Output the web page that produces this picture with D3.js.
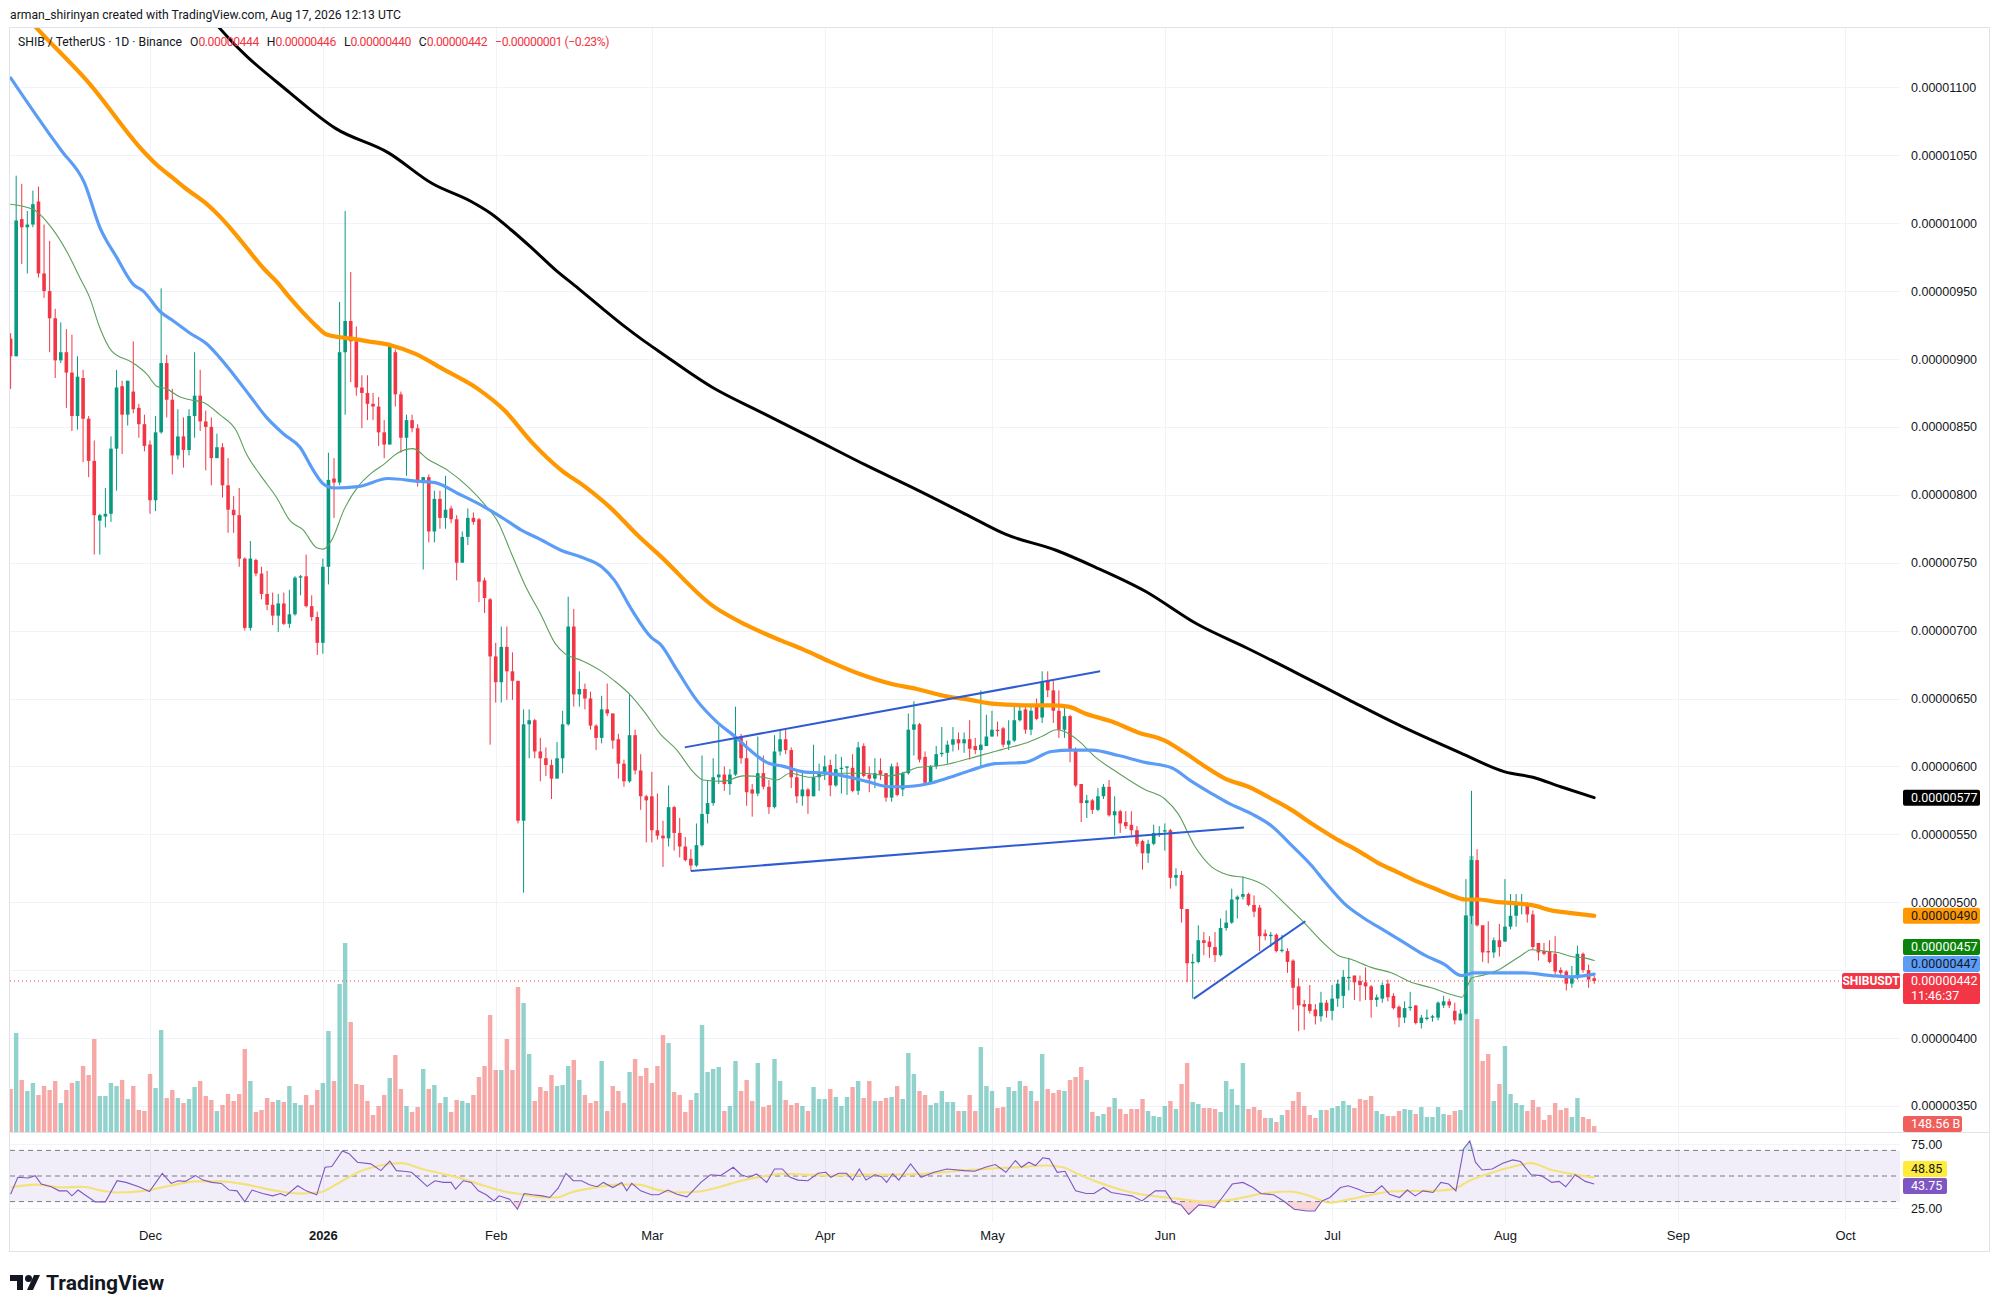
<!DOCTYPE html>
<html>
<head>
<meta charset="utf-8">
<script src="https://cdn.jsdelivr.net/npm/d3@7"></script>
<style>
  body { margin: 0; background: #fff; }
  svg { display: block; font-family: Roboto, "Noto Sans", sans-serif; }
</style>
</head>
<body>
<svg id="chart"></svg>
<script>
// daily candles from 2025-11-06, prices in units of 1e-8 USDT
const startDay = Date.UTC(2025, 10, 6);

const openV = [
  915,902,1003,997,999,1016,963,950,930,899, 905,890,858,886,856,825,781,784,786,834,
  880,859,876,864,852,837,796,846,897,870, 829,843,833,858,873,854,850,827,835,807,
  789,785,753,702,752,742,727,719,711,720, 705,712,739,740,718,710,691,747,812,809,
  905,928,913,879,875,867,865,846,837,905, 874,842,855,849,809,813,773,797,783,790,
  782,750,769,783,782,737,723,681,662,688, 670,663,560,631,634,611,606,601,591,606,
  631,703,653,657,650,630,621,642,639,620, 602,589,623,597,578,578,553,549,547,570,
  551,541,532,527,542,565,573,592,594,587, 594,622,606,583,580,595,585,570,611,620,
  612,592,578,583,578,592,595,601,586,598, 599,599,582,615,594,591,597,595,577,600,
  583,595,627,631,607,588,600,609,610,616, 620,617,620,615,612,615,622,627,628,616,
  619,634,642,627,646,636,663,656,641,627, 637,612,587,573,575,568,578,585,564,567,
  559,557,553,545,536,543,550,552,553,518, 520,495,455,456,472,471,467,461,481,485,
  502,504,506,498,496,477,475,476,464,464, 457,438,425,425,421,416,426,420,429,431,
  444,446,442,441,438,428,429,440,431,423, 415,422,424,411,414,415,415,424,427,420,
  413,418,490,531,483,464,463,472,471,482, 490,498,499,491,470,464,464,462,450,449,
  440,444,462,450,444
];
const highV = [
  919,1035,1029,1009,1024,1027,999,987,937,927, 922,918,902,892,858,840,786,805,843,892,
  884,884,913,867,859,840,858,952,903,878, 863,857,863,905,892,862,857,845,838,827,
  799,805,754,766,753,747,744,728,727,728, 730,740,741,756,726,714,753,831,827,942,
  1009,964,924,888,888,875,872,855,912,907, 876,859,859,852,813,815,803,803,814,792,
  785,773,790,787,783,739,724,691,703,703, 684,663,642,642,635,621,614,605,618,641,
  725,716,670,661,655,631,652,661,639,624, 605,653,627,609,579,596,580,560,586,571,
  562,548,539,558,608,590,606,630,600,598, 644,624,619,587,622,608,590,623,627,627,
  614,596,597,584,616,602,608,605,609,607, 600,609,618,617,600,606,606,595,602,603,
  596,639,648,632,611,601,615,629,619,629, 625,625,634,621,656,638,641,633,629,634,
  644,646,646,646,650,670,670,663,656,644, 638,614,587,579,576,584,587,590,578,568,
  567,567,556,546,546,557,556,558,554,525, 523,495,462,483,478,475,478,488,494,510,
  505,519,507,505,498,480,478,477,476,466, 458,444,428,439,425,434,428,439,443,450,
  459,446,446,452,439,432,441,443,433,424, 427,434,424,417,421,417,427,431,429,426,
  421,517,582,539,483,486,474,484,517,506, 506,506,500,494,470,470,472,475,452,450,
  453,468,463,454,446
];
const lowV = [
  878,902,970,963,997,960,945,905,886,897, 864,847,848,824,813,756,756,776,780,803,
  830,851,860,842,832,786,788,845,857,815, 826,820,829,842,847,818,807,827,798,772,
  772,747,700,700,740,723,715,704,699,704, 702,711,726,717,707,682,683,734,783,807,
  859,883,873,849,855,855,836,827,837,865, 831,814,846,806,745,765,765,775,775,779,
  737,750,763,778,721,713,616,647,647,649, 649,558,507,606,606,589,593,576,591,595,
  630,644,644,642,627,612,617,637,613,591, 585,588,594,568,544,544,546,526,541,538,
  533,530,523,526,541,558,571,587,582,579, 593,602,571,563,578,583,565,569,608,609,
  584,573,571,565,578,582,590,578,585,580, 579,581,579,592,581,584,590,574,574,578,
  578,594,608,603,586,587,598,607,602,611, 612,610,605,609,600,615,622,622,614,612,
  618,633,624,623,634,632,651,632,621,621, 603,585,559,562,565,567,576,563,549,551,
  554,549,541,524,529,542,548,538,510,512, 485,441,429,455,461,459,456,460,479,484,
  488,502,497,489,464,472,467,463,463,448, 421,405,406,418,410,412,415,413,423,422,
  435,428,427,428,415,423,426,427,421,408, 411,420,410,407,413,412,413,422,422,410,
  413,417,484,482,456,455,459,460,471,480, 482,491,485,465,457,461,455,447,445,435,
  437,443,448,437,440
];
const closeV = [
  902,1002,997,999,1014,963,950,930,899,905, 890,858,887,856,825,785,785,786,834,879,
  859,884,863,852,836,796,846,897,870,829, 843,833,858,873,854,850,827,835,807,789,
  785,753,702,753,742,727,719,711,720,705, 712,739,740,718,710,691,747,811,809,905,
  928,913,879,875,867,865,846,837,910,874, 842,855,849,809,813,773,797,783,789,782,
  750,769,783,780,736,724,681,662,688,670, 663,560,631,634,611,606,601,591,606,631,
  703,653,657,650,630,621,642,639,619,602, 589,623,597,578,575,553,549,547,570,551,
  541,531,527,542,565,573,592,594,587,594, 620,606,581,580,595,585,570,611,620,612,
  592,578,583,578,592,595,600,586,598,599, 600,582,614,593,591,595,594,577,600,579,
  595,627,631,605,588,600,609,610,616,620, 617,620,613,612,616,622,627,626,616,619,
  634,641,627,641,635,662,656,641,627,637, 612,586,573,575,568,578,585,564,567,558,
  556,553,543,536,543,551,551,553,518,520, 495,455,456,472,470,467,461,481,485,502,
  504,506,498,493,475,475,476,464,465,456, 437,424,423,420,416,426,420,429,440,445,
  445,441,439,438,428,430,439,430,422,415, 422,423,411,415,415,416,426,427,424,413,
  418,490,531,483,463,463,472,467,482,490, 499,499,491,467,463,462,456,449,448,440,
  445,462,450,443,442
];
// daily volume, billions of SHIB
const volumeV = [
  1075,2475,1300,1025,1225,925,1150,1050,1275,725, 1050,1225,1275,1650,1425,2325,900,900,1225,1150,
  1300,825,1150,550,525,1450,1100,2550,850,1050, 850,725,825,1125,1275,900,800,525,675,950,
  775,950,2075,1275,500,550,850,750,800,750, 1150,725,675,925,675,1050,1225,2525,1275,3700,
  4725,2750,1200,1175,775,425,650,925,1350,1925, 1075,650,500,625,1575,1075,1175,725,875,500,
  800,775,725,925,1375,1650,2925,1550,1550,2325, 1550,3625,3225,1950,775,1125,1025,1425,1150,1175,
  1650,1800,1300,925,725,775,1775,525,1150,1025, 725,1500,1825,1400,1600,1225,1650,2425,2225,1000,
  925,500,800,975,2675,1500,1575,1625,525,650, 1775,1025,1300,775,1725,625,675,1825,1275,800,
  675,725,650,525,1125,825,825,1075,875,650, 875,1125,1275,850,1275,775,775,850,875,1150,
  825,1975,1450,1025,925,675,725,1025,750,750, 525,525,925,525,2125,1150,1025,600,625,1125,
  1025,1275,1150,1025,775,1950,1075,975,1050,1025, 1300,1375,1625,1300,500,400,450,625,850,575,
  450,575,575,825,525,400,375,650,775,575, 1200,1725,750,700,600,600,575,500,1275,1075,
  675,1725,575,625,550,350,350,250,425,550, 775,1000,650,425,350,550,550,600,650,775,
  675,600,825,800,900,525,450,400,400,525, 575,550,450,625,375,375,625,450,425,525,
  550,5425,6900,2825,1775,1950,775,1200,2150,950, 725,675,525,800,625,300,425,725,550,600,
  375,850,375,325,148.56
];

// moving averages: [day index, price]
const ma200 = [[30,1185],[37.4,1144],[50.1,1096],[58.2,1070],[67.7,1052],[75.7,1029],[82.6,1016],[86.2,1007],
  [89.8,995],[93.4,982],[97.6,966],[101.8,952],[105.9,938],[110.1,924],[113.7,913],[116.5,905],[125.9,879],
  [135,860],[144.2,841],[153.3,822],[162.4,804],[171.6,785],[178.4,771],[187.6,759],[194.4,747],[203.5,729],
  [212.7,705],[221.8,687],[231,668],[240,649],[249.2,630],[260,610],[268,596],[273,592],[278,585],[284,577]];
const ma100 = [[0,1165],[4.6,1144],[14.1,1103],[23.8,1053],[26.2,1043],[29.2,1033],[31.6,1025],[35.2,1014],
  [37.5,1005],[39.9,994],[42.3,982],[45.3,967],[47.7,957],[50.1,945],[52.5,934],[54.9,924],[56.7,918],[59.1,916],
  [61.1,915],[64.1,913],[68.3,910],[72.5,904],[77.8,892],[83.8,878],[88.6,862],[93.4,839],[98.8,818],[103,806],
  [107.7,790],[112.5,770],[116.5,755],[126,718],[132,704],[138,693],[142.2,686],[147,677],[152.3,668],[157.7,661],
  [162.5,657],[167.3,652],[172.1,649],[176.5,646],[181.9,645],[186.7,645],[189.7,644],[192.7,639],[197.5,633],
  [202.2,625],[207,619],[210.6,610],[214.2,600],[217.8,591],[222,585],[226.2,576],[229.7,568],[233.3,558],
  [236,551],[238,546],[241.6,538],[245.2,529],[248.8,522],[252.4,515],[256,509],[258.4,505],[260.8,502],
  [263.2,502],[266.8,500],[270.3,499],[272.7,498],[276.3,494],[279.9,492],[284,490]];
const ma50 = [[0,1107],[6.9,1066],[9.2,1053],[13.2,1030],[16,997],[19,975],[22,955],[23.8,950],[26.8,935],
  [29.2,928],[32.2,919],[35.2,911],[37.5,901],[39.9,889],[42.9,873],[45.9,857],[48.9,845],[51.9,835],[54.3,818],
  [56.1,808],[58.1,805],[62.3,806],[67.7,812],[73.1,810],[76.1,809],[80.2,801],[85,791],[88.6,782],[91.6,774],
  [94.6,768],[98.8,759],[102.4,754],[106,747],[108.3,737],[111.3,716],[114.9,695],[116.5,690],[119.5,671],
  [123,649],[126.6,633],[130.2,621],[132.6,612],[135.6,603],[138.6,600],[142.2,596],[146.3,595],[150.5,592],
  [153.5,589],[157.7,585],[160.1,585],[164.3,587],[168.5,592],[172.1,597],[176.5,602],[181.9,603],[186.7,611],
  [190.3,612],[193.9,612],[198.7,608],[203.4,603],[208.2,599],[211.8,589],[215.4,580],[218.4,573],[222.6,565],
  [226.2,556],[229.7,542],[233.3,527],[235.7,515],[239.2,499],[242.8,488],[246.4,479],[250,470],[253.6,461],
  [257.2,454],[260.2,446],[262.6,448],[266.8,448],[271.5,448],[276.3,446],[279.9,445],[284,447]];
const ma20 = [[0,1014],[4.1,1010],[6.5,1001],[10.1,979],[12.4,960],[14.2,945],[16,923],[18.1,906],[22,897],
  [24.4,889],[26.2,880],[28,878],[30.4,872],[32.2,870],[34.6,868],[37.5,859],[40.5,847],[42.3,830],[44.7,815],
  [47.7,798],[50.1,781],[52.5,774],[54.9,761],[56.1,760],[57.5,766],[59.9,790],[62.3,806],[64.7,816],[67.1,823],
  [69.5,831],[72.2,834],[74.9,826],[78.4,818],[82,806],[85,793],[87.4,780],[89.8,757],[92.2,734],[95.2,711],
  [97.6,691],[99.4,683],[102.4,678],[106,670],[108.3,663],[111.3,652],[113.7,640],[116.5,624],[119.5,612],
  [122.4,596],[124.2,590],[127.8,589],[131.4,593],[135,592],[137.4,590],[139.8,595],[143.4,592],[148.1,595],
  [152.9,595],[157.7,593],[160.7,596],[162.5,599],[167.3,601],[172.1,606],[176.5,611],[178.3,613],[181.9,617],
  [184.9,622],[187.6,627],[189.4,625],[191.5,619],[194.5,607],[198.7,595],[203.4,583],[207,576],[209.4,565],
  [212.4,541],[215.4,526],[218.4,520],[221.4,518],[225,512],[228.5,499],[231.5,487],[235.7,469],[238,461],
  [240.4,458],[244,452],[247.6,448],[251.2,441],[254.8,437],[258.4,432],[260.3,430],[262,444],[263.8,446],
  [266.8,450],[269.1,456],[271,461],[272.7,465],[275.1,464],[277.5,463],[279.9,460],[282.3,459],[284,457]];

// drawn trend lines: [day index, price]
const channelTop = [[120.9,614],[195.4,670]];
const channelBottom = [[122,523],[221.2,555]];
const wedgeLine = [[212.2,429],[232.2,486]];

// RSI(14) and its moving average: [day index, value]
const rsiLine = [[0,35.8],[1.3,49],[3.2,48.4],[4.4,50.3],[5.5,43.7],[7.3,41.6],[8.7,38.4],[10.1,38.4],[11,34.5],
  [12.1,39],[13.3,35.3],[15.2,29.8],[17,29.8],[19.1,46.3],[20.7,45],[23,41.6],[24.9,37.9],[27.2,52.1],[28.8,44.2],
  [30,46.3],[31.3,45.8],[33.2,50.3],[34.5,46.8],[36.1,45],[37.8,44.2],[39.2,39],[40.6,38.4],[42,29.8],[43.3,39],
  [45.2,36.3],[47,34.5],[48.4,36.3],[49.3,34.5],[51.5,42.4],[53,38.4],[54.9,35.3],[56.4,56.8],[57.6,57.4],
  [59.5,69.5],[60.7,67.4],[62.2,60.8],[64.6,59.5],[66.4,54.2],[68,61.6],[69.2,54.2],[70.5,53.7],[71.9,52.9],
  [73.3,47.6],[74.7,41.9],[76.1,46.3],[77.6,45],[79,45],[79.8,39.7],[81.2,46.3],[82.6,45],[83.9,38.4],[85.3,35.3],
  [86.7,30.5],[87.6,34.5],[89.5,31.9],[90.9,24],[92.1,36.3],[93.6,35.3],[95.4,34.5],[96.7,33.2],[98.2,40.5],
  [99.6,52.1],[100.9,46.3],[102.4,46.3],[103.8,43.2],[105.2,41.6],[106.3,45],[108,41],[109.6,45],[110.5,38.4],
  [111.4,44.2],[113,38.4],[114.9,35.3],[116.2,35.3],[117.9,39],[119.5,35.8],[121.3,33.7],[123.8,45],[125.5,51],
  [127.3,50.3],[129.6,56.8],[131,51],[132.4,49],[133.8,51.6],[135.6,45],[137,55.5],[138.4,55.5],[139.8,49],
  [141.2,46.8],[143,46.3],[144.8,52.1],[146.2,52.9],[147.1,49],[148.5,52.1],[149.9,52.1],[151,46.8],[152.2,55.5],
  [153.4,46.8],[155,51],[156.2,49.5],[157.1,45],[158.2,51.6],[159.3,46.8],[161.4,59.5],[163.3,49],[165.6,52.9],
  [167.9,55.5],[171.1,54.2],[172.9,53.7],[174.8,56.8],[176.6,59],[178.5,52.9],[180.2,62.1],[181.3,56.8],
  [182.6,60.8],[183.8,58.2],[185.1,64.2],[186.3,63.4],[187.7,52.9],[189.1,53.7],[191,38.4],[192.9,36.3],
  [194.3,36.3],[196,41],[197.4,37.1],[199.3,35.8],[201.1,34.5],[202.9,30.5],[205.3,38.4],[207.1,38.4],[208.5,29.2],
  [209.9,27.4],[211.3,20],[213.1,27.4],[214.9,26.6],[215.9,25.3],[217.3,33.2],[219.1,43.7],[221,45],[222.8,41],
  [224.2,36.3],[226.5,35.3],[228.3,30.5],[230.2,24],[232.5,22.6],[233.9,22.6],[235.2,30.5],[236.6,33.2],[238.5,41],
  [239.9,42.4],[241.7,39.7],[243.1,37.1],[244.5,37.1],[245.9,42.4],[247.3,35.8],[249.1,33.2],[250.5,39],
  [251.9,34.5],[253.3,38.4],[255.1,37.1],[256.5,45],[257.9,43.7],[259.2,38.4],[260.6,71.3],[261.7,77.4],
  [262.7,60.8],[263.9,54.7],[265.7,55.5],[267.6,60],[269.4,62.6],[270.8,61.3],[272.7,51],[274.5,50.3],[276.4,45],
  [277.7,45.8],[278.9,41.6],[280.6,51],[282.4,45.8],[284,43.75]];
const rsiMa = [[0,41],[4.6,43.2],[9.2,41],[12.9,41.6],[16.6,38.4],[19.3,37.1],[23.9,38.4],[28.6,42.4],[33.2,45.8],
  [37.8,45.8],[42.4,43.2],[47,39],[51.6,36.3],[55.3,37.1],[59,45],[62.7,53.7],[66.4,58.2],[70.1,60],[73.8,55.5],
  [77.6,51.6],[81.2,47.6],[84.9,42.4],[88.6,37.9],[92.2,35.3],[95.9,33.2],[97.8,33.2],[100.5,37.1],[104.2,40.5],
  [108.9,43.2],[112.5,43.2],[116.2,39],[119.9,37.1],[123.6,37.9],[127.3,41.6],[131,46.3],[134.7,49.5],[138.4,51.6],
  [142.8,51],[147.1,50.3],[152.6,51],[158.2,51],[163.7,51.6],[169.3,53.7],[174.8,55.5],[180.3,56.8],[185.9,58.2],
  [188.7,56.8],[191.4,51.6],[195.1,45],[198.8,39.7],[202.5,35.8],[206.2,33.7],[209.9,31.9],[213.6,30],[217.3,30.5],
  [221,33.2],[224.6,36.3],[229.3,37.9],[233,34.5],[236.6,29.2],[240.3,31.9],[244,35.3],[247.7,37.9],[251.3,38.4],
  [255.1,38.4],[258.7,39.7],[261.6,46.3],[265.3,52.1],[269,56.8],[272.7,60],[276.4,54.7],[280.1,51.5],[284,48.85]];

const priceTicks = [350,400,500,550,600,650,700,750,800,850,900,950,1000,1050,1100];
const priceGrid = [350,400,450,500,550,600,650,700,750,800,850,900,950,1000,1050,1100];
const rsiTicks = [25, 75];
const monthLabels = ["Dec","2026","Feb","Mar","Apr","May","Jun","Jul","Aug","Sep","Oct"];
const monthDates = [[2025,11],[2026,0],[2026,1],[2026,2],[2026,3],[2026,4],[2026,5],[2026,6],[2026,7],[2026,8],[2026,9]]
  .map(([y, m]) => new Date(Date.UTC(y, m, 1)));

const width = 1996;
const height = 1312;
const plotL = 10, plotR = 1900;
const priceTop = 28, priceBot = 1132;
const rsiTop = 1133, rsiBot = 1222;
const axisX = 1903;
const textColor = "#131722";
const upColor = "#089981", downColor = "#f23645";

const svg = d3.select("#chart").attr("width", width).attr("height", height);

const xScale = d3.scaleUtc()
  .domain([new Date(startDay), new Date(Date.UTC(2026, 9, 1))])
  .range([10.6, 1845.1]);
const xAt = (i) => xScale(new Date(startDay + i * 864e5));
const yPrice = d3.scaleLinear().domain([350, 1100]).range([1105.9, 87.4]);
const yVol = d3.scaleLinear().domain([0, 6900]).range([priceBot, priceBot - 276]);
const yRsi = d3.scaleLinear().domain([25, 75]).range([1208, 1144]);
const fmtP = (v) => (v / 1e8).toFixed(8);

const defs = svg.append("defs");
defs.append("clipPath").attr("id", "clipPrice").append("rect")
  .attr("x", plotL).attr("y", priceTop).attr("width", plotR - plotL).attr("height", priceBot - priceTop);
defs.append("clipPath").attr("id", "clipRsi").append("rect")
  .attr("x", plotL).attr("y", rsiTop).attr("width", plotR - plotL).attr("height", rsiBot - rsiTop);

// grid
const grid = svg.append("g").attr("stroke", "#f0f3fa").attr("stroke-width", 1);
grid.selectAll(".hg").data(priceGrid).enter().append("line")
  .attr("x1", plotL).attr("x2", plotR)
  .attr("y1", (d) => Math.round(yPrice(d)) + 0.5).attr("y2", (d) => Math.round(yPrice(d)) + 0.5);
grid.selectAll(".rg").data(rsiTicks).enter().append("line")
  .attr("x1", plotL).attr("x2", plotR)
  .attr("y1", (d) => Math.round(yRsi(d)) + 0.5).attr("y2", (d) => Math.round(yRsi(d)) + 0.5);
grid.selectAll(".vg").data(monthDates).enter().append("line")
  .attr("y1", priceTop).attr("y2", rsiBot)
  .attr("x1", (d) => Math.round(xScale(d)) + 0.5).attr("x2", (d) => Math.round(xScale(d)) + 0.5);

// frame and pane separator
svg.append("rect").attr("x", 9.5).attr("y", 27.5).attr("width", 1980).attr("height", 1224)
  .attr("fill", "none").attr("stroke", "#e0e3eb");
svg.append("line").attr("x1", plotL).attr("x2", 1989).attr("y1", 1132.5).attr("y2", 1132.5)
  .attr("stroke", "#e0e3eb");

const candles = closeV.map((c, i) => ({ i, o: openV[i], h: highV[i], l: lowV[i], c, v: volumeV[i] }));
const isUp = (d) => d.c >= d.o;

const pricePane = svg.append("g").attr("clip-path", "url(#clipPrice)");

// volume
pricePane.append("g").selectAll("rect").data(candles).enter().append("rect")
  .attr("x", (d) => xAt(d.i) - 2.2).attr("width", 4.4)
  .attr("y", (d) => yVol(d.v)).attr("height", (d) => priceBot - yVol(d.v))
  .attr("fill", (d) => (isUp(d) ? "rgba(38,166,154,0.5)" : "rgba(239,83,80,0.5)"));

// last price line
svg.append("line").attr("x1", plotL).attr("x2", 1842)
  .attr("y1", yPrice(closeV[closeV.length - 1])).attr("y2", yPrice(closeV[closeV.length - 1]))
  .attr("stroke", downColor).attr("stroke-width", 1).attr("stroke-dasharray", "1,3");

// candles
const cg = pricePane.append("g");
cg.selectAll("line").data(candles).enter().append("line")
  .attr("x1", (d) => xAt(d.i)).attr("x2", (d) => xAt(d.i))
  .attr("y1", (d) => yPrice(d.h)).attr("y2", (d) => yPrice(d.l))
  .attr("stroke", (d) => (isUp(d) ? upColor : downColor)).attr("stroke-width", 1);
cg.selectAll("rect").data(candles).enter().append("rect")
  .attr("x", (d) => xAt(d.i) - 1.8).attr("width", 3.6)
  .attr("y", (d) => yPrice(Math.max(d.o, d.c)))
  .attr("height", (d) => Math.max(1, Math.abs(yPrice(d.o) - yPrice(d.c))))
  .attr("fill", (d) => (isUp(d) ? upColor : downColor));

// moving averages
const maLine = d3.line().x((d) => xAt(d[0])).y((d) => yPrice(d[1])).curve(d3.curveMonotoneX);
[
  [ma20, "#5c9f5c", 1.1],
  [ma50, "#5b9cf6", 3.2],
  [ma100, "#ff9800", 4.2],
  [ma200, "#000000", 3],
].forEach(([data, color, w]) => {
  pricePane.append("path").datum(data).attr("d", maLine)
    .attr("fill", "none").attr("stroke", color).attr("stroke-width", w)
    .attr("stroke-linejoin", "round").attr("stroke-linecap", "round");
});

// trend lines
const trend = d3.line().x((d) => xAt(d[0])).y((d) => yPrice(d[1]));
[channelTop, channelBottom, wedgeLine].forEach((seg) => {
  pricePane.append("path").datum(seg).attr("d", trend)
    .attr("fill", "none").attr("stroke", "#2f5bd3").attr("stroke-width", 2);
});

// RSI pane
const rsiPane = svg.append("g").attr("clip-path", "url(#clipRsi)");
rsiPane.append("rect").attr("x", plotL).attr("width", plotR - plotL)
  .attr("y", yRsi(70)).attr("height", yRsi(30) - yRsi(70)).attr("fill", "rgba(126,87,194,0.1)");
[70, 50, 30].forEach((v) => {
  rsiPane.append("line").attr("x1", plotL).attr("x2", plotR)
    .attr("y1", yRsi(v)).attr("y2", yRsi(v))
    .attr("stroke", "#787b86").attr("stroke-width", 1).attr("stroke-dasharray", "5,4");
});
rsiPane.append("path").datum(rsiLine)
  .attr("d", d3.area().x((d) => xAt(d[0])).y0(yRsi(70)).y1((d) => yRsi(Math.max(d[1], 70))))
  .attr("fill", "rgba(8,153,129,0.2)");
rsiPane.append("path").datum(rsiLine)
  .attr("d", d3.area().x((d) => xAt(d[0])).y0(yRsi(30)).y1((d) => yRsi(Math.min(d[1], 30))))
  .attr("fill", "rgba(242,54,69,0.2)");
rsiPane.append("path").datum(rsiMa)
  .attr("d", d3.line().x((d) => xAt(d[0])).y((d) => yRsi(d[1])).curve(d3.curveMonotoneX))
  .attr("fill", "none").attr("stroke", "#f3e27c").attr("stroke-width", 2.2);
rsiPane.append("path").datum(rsiLine).attr("d", d3.line().x((d) => xAt(d[0])).y((d) => yRsi(d[1])))
  .attr("fill", "none").attr("stroke", "#7e57c2").attr("stroke-width", 1.1);

// price axis
const yAxis = svg.append("g").attr("transform", `translate(${axisX + 8},0)`)
  .call(d3.axisRight(yPrice).tickValues(priceTicks).tickFormat(fmtP).tickSize(0).tickPadding(0));
yAxis.select(".domain").remove();
yAxis.selectAll("text").attr("fill", textColor).style("font-size", "12.5px");

const rAxis = svg.append("g").attr("transform", `translate(${axisX + 8},0)`)
  .call(d3.axisRight(yRsi).tickValues(rsiTicks).tickFormat(d3.format(".2f")).tickSize(0).tickPadding(0));
rAxis.select(".domain").remove();
rAxis.selectAll("text").attr("fill", textColor).style("font-size", "12.5px");

// time axis
const xAxis = svg.append("g").attr("transform", `translate(0,${rsiBot + 6})`)
  .call(d3.axisBottom(xScale).tickValues(monthDates).tickFormat((d, i) => monthLabels[i]).tickSize(0).tickPadding(3));
xAxis.select(".domain").remove();
xAxis.selectAll("text").attr("fill", textColor).style("font-size", "13px")
  .style("font-weight", (d, i) => (monthLabels[i] === "2026" ? "bold" : "normal"));

// value boxes on the scale
function scaleBox(yc, w, h, fill, color, lines) {
  const g = svg.append("g");
  g.append("rect").attr("x", axisX).attr("y", yc - 8).attr("width", w).attr("height", h)
    .attr("rx", 2).attr("fill", fill);
  lines.forEach((t, k) => {
    g.append("text").attr("x", axisX + 8).attr("y", yc + k * 15).attr("dy", "0.35em")
      .attr("fill", color).style("font-size", "12.5px").text(t);
  });
}
const lastClose = closeV[closeV.length - 1];
const lastY = yPrice(lastClose);
const maBoxes = [
  { v: ma50[ma50.length - 1][1], fill: "#5b9cf6", color: textColor },
  { v: ma20[ma20.length - 1][1], fill: "#0a830a", color: "#fff" },
  { v: ma100[ma100.length - 1][1], fill: "#ff9800", color: textColor },
  { v: ma200[ma200.length - 1][1], fill: "#000000", color: "#fff" },
];
let bound = lastY - 9;
maBoxes.forEach((b) => {
  const yc = Math.min(yPrice(b.v), bound - 8);
  scaleBox(yc, 77, 16, b.fill, b.color, [fmtP(b.v)]);
  bound = yc - 9;
});
scaleBox(lastY, 77, 31, downColor, "#fff", [fmtP(lastClose), "11:46:37"]);

// symbol tag on the last price line
svg.append("rect").attr("x", 1842).attr("y", lastY - 8).attr("width", 58).attr("height", 16)
  .attr("rx", 2).attr("fill", downColor);
svg.append("text").attr("x", 1871).attr("y", lastY).attr("dy", "0.35em").attr("text-anchor", "middle")
  .attr("fill", "#fff").style("font-size", "12px").style("font-weight", "bold").text("SHIBUSDT");

// volume value
const lastVol = volumeV[volumeV.length - 1];
scaleBox(Math.min(yVol(lastVol), priceBot - 8), 59, 16, "#ef5f5c", "#fff", [d3.format(".2f")(lastVol) + " B"]);

// RSI value boxes
const rsiLast = rsiLine[rsiLine.length - 1][1];
const rsiMaLast = rsiMa[rsiMa.length - 1][1];
const rsiY1 = yRsi(rsiLast) + 2;
scaleBox(rsiY1, 44, 16, "#7e57c2", "#fff", [d3.format(".2f")(rsiLast)]);
scaleBox(Math.min(yRsi(rsiMaLast), rsiY1 - 17), 44, 16, "#ffeb3b", textColor, [d3.format(".2f")(rsiMaLast)]);

// header and legend
svg.append("text").attr("x", 10).attr("y", 15).attr("dy", "0.35em")
  .attr("fill", textColor).style("font-size", "12.2px")
  .text("arman_shirinyan created with TradingView.com, Aug 17, 2026 12:13 UTC");

const legendParts = [
  ["O", fmtP(openV[openV.length - 1])],
  ["H", fmtP(highV[highV.length - 1])],
  ["L", fmtP(lowV[lowV.length - 1])],
  ["C", fmtP(lastClose)],
  ["", "−0.00000001 (−0.23%)"],
];
const legend = svg.append("text").attr("x", 18).attr("y", 42).attr("dy", "0.35em").style("font-size", "12.2px");
legend.append("tspan").attr("fill", textColor).text("SHIB / TetherUS · 1D · Binance");
legendParts.forEach(([label, value]) => {
  if (label) {
    legend.append("tspan").attr("dx", 8).attr("fill", textColor).text(label);
    legend.append("tspan").attr("fill", downColor).style("letter-spacing", "-0.45px").text(value);
  } else {
    legend.append("tspan").attr("dx", 8).attr("fill", downColor).style("letter-spacing", "-0.45px").text(value);
  }
});

// TradingView logo
const logo = svg.append("g").attr("fill", textColor);
logo.append("path").attr("d", "M10,1275 h13 v15 h-6 v-9 h-7 z");
logo.append("circle").attr("cx", 28.5).attr("cy", 1278.5).attr("r", 3.5);
logo.append("path").attr("d", "M27,1290 l7,-15 h6 l-7,15 z");
logo.append("text").attr("x", 46).attr("y", 1283).attr("dy", "0.35em")
  .style("font-size", "21px").style("font-weight", "bold").text("TradingView");
</script>
</body>
</html>
